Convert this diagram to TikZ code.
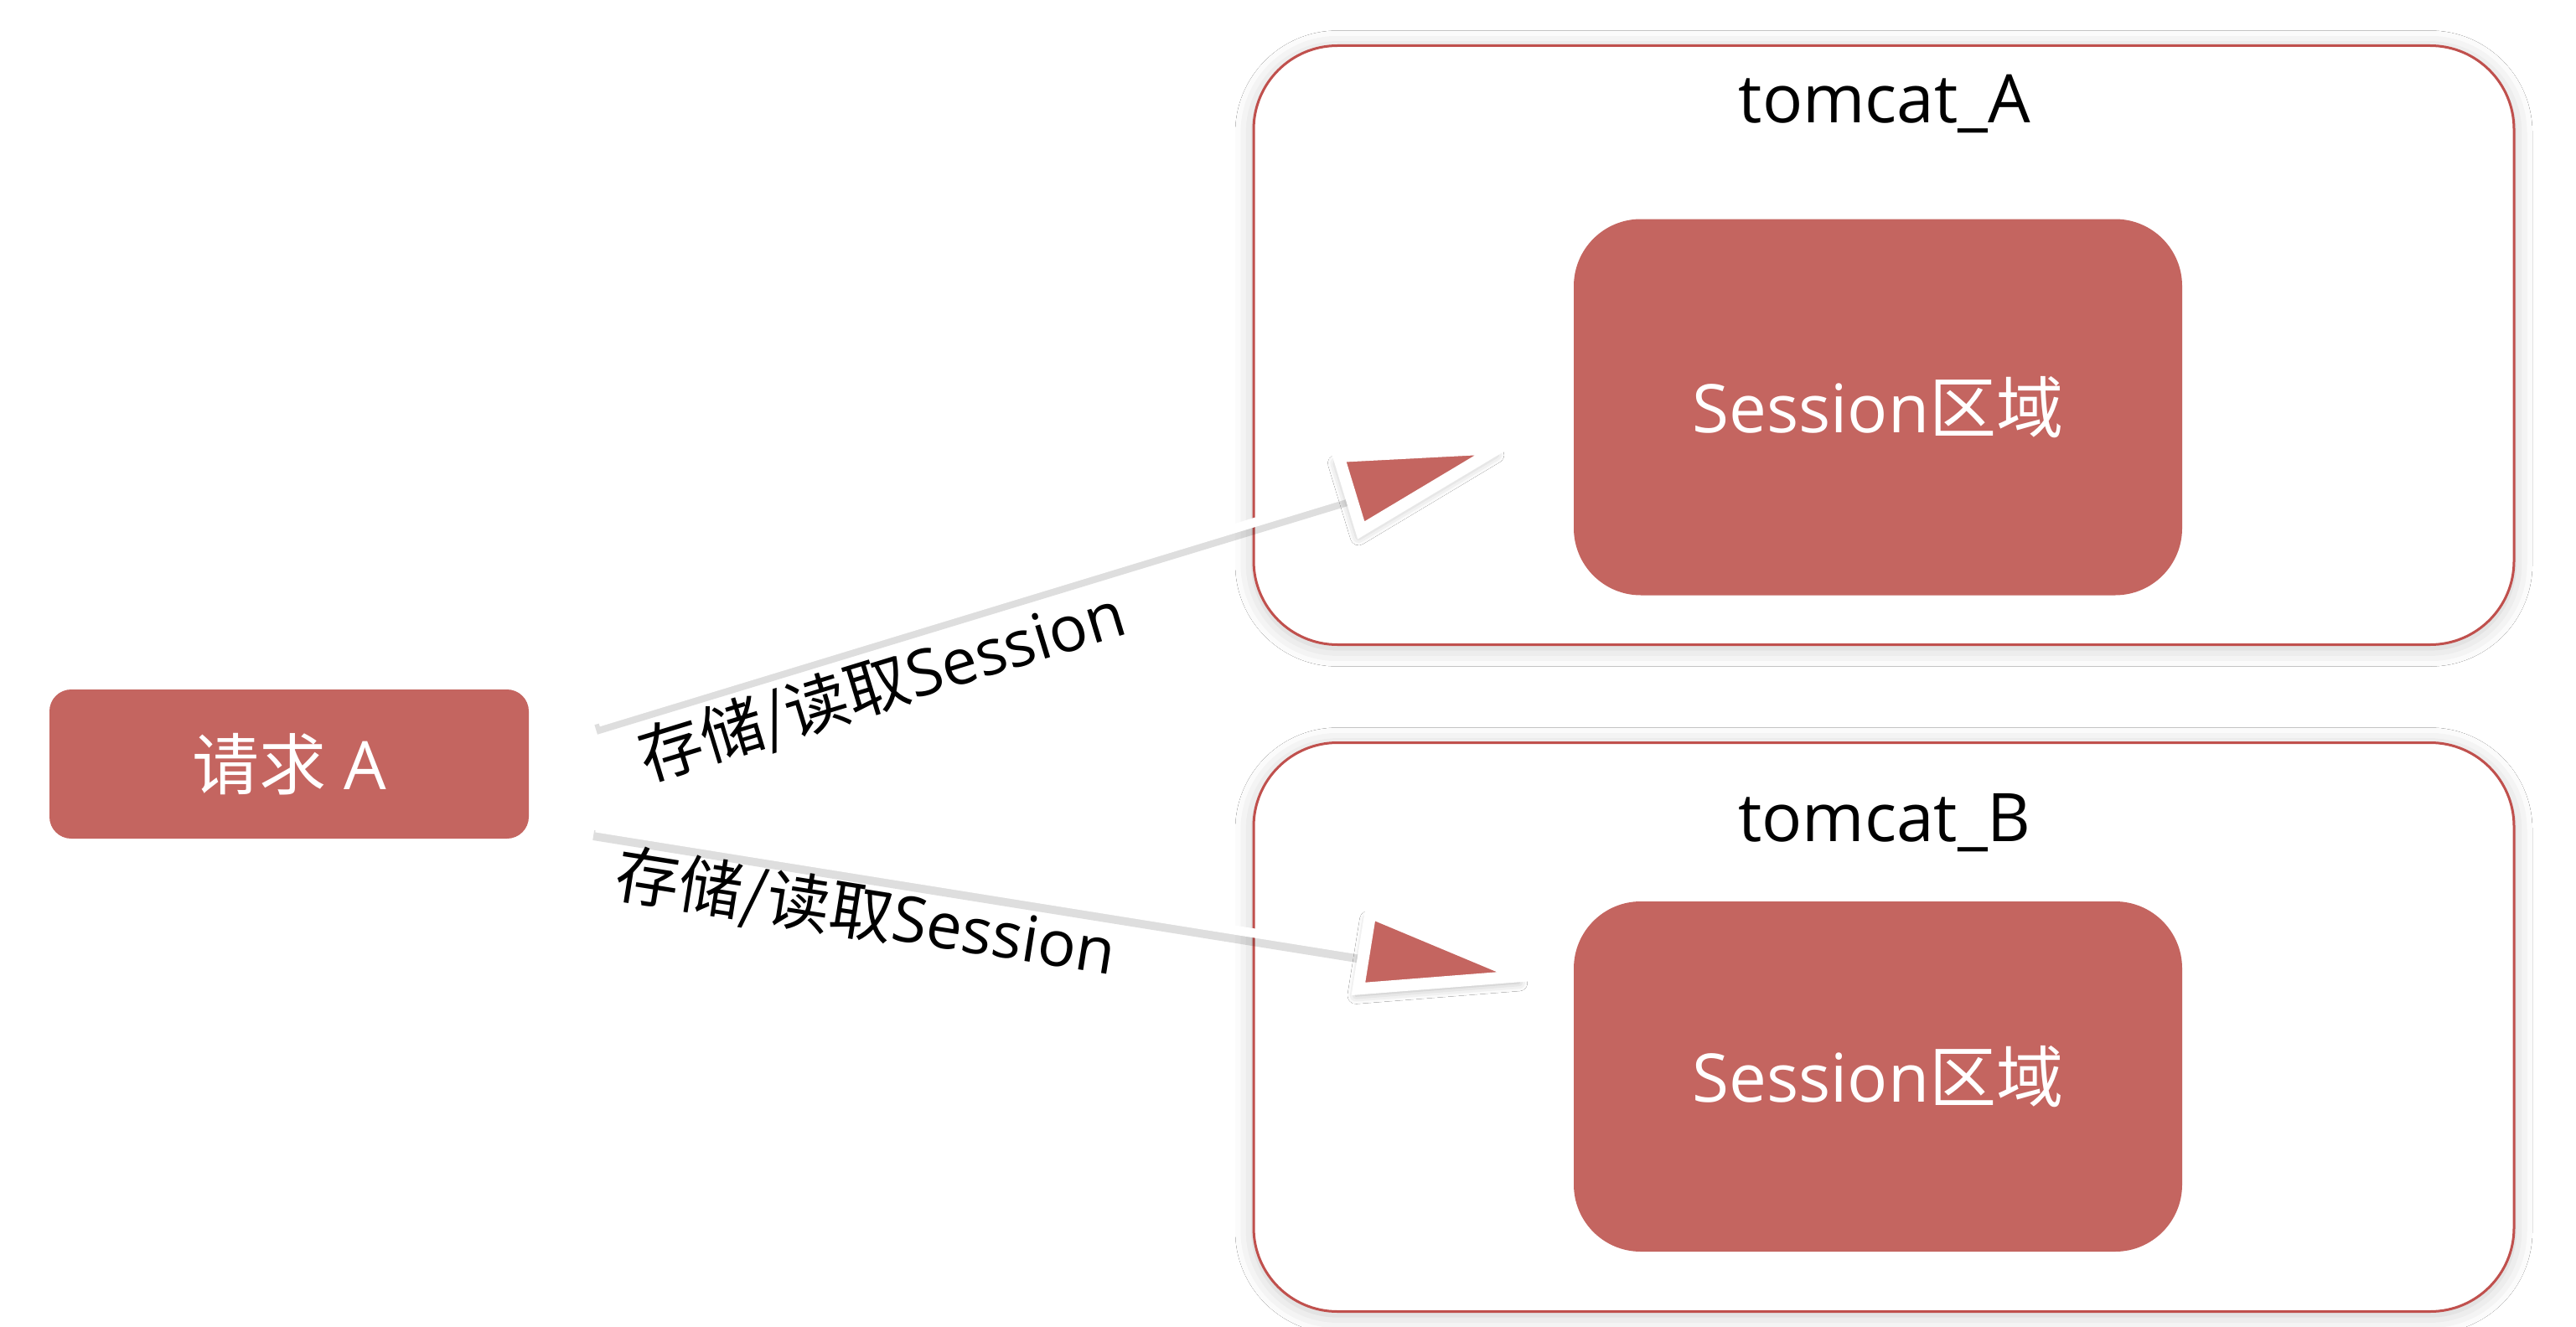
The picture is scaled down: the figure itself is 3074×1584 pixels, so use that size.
\documentclass[tikz,border=0pt]{standalone}
\usepackage{fontspec}
\setmainfont{Open Sans}
\newfontfamily\cjk{Noto Sans CJK SC}
\usetikzlibrary{calc,shadows.blur}
\definecolor{boxred}{RGB}{196,101,96}
\definecolor{edgered}{RGB}{192,80,77}
\begin{document}
\begin{tikzpicture}[x=1pt,y=-1pt,
  big/.style={font=\fontsize{80}{96}\selectfont},
  server/.style={draw=edgered, line width=3pt, fill=white, rounded corners=100pt,
    minimum width=1504pt, inner sep=0pt,
    blur shadow={shadow xshift=0pt, shadow yshift=-4pt, shadow blur radius=22pt, shadow opacity=22}},
  sessbox/.style={fill=boxred, rounded corners=80pt, minimum width=726pt, inner sep=0pt,
    text=white, big},
  reqbox/.style={fill=boxred, rounded corners=26pt, minimum width=572pt, minimum height=178pt,
    inner sep=0pt, text=white, big},
  title/.style={big, text=black},
  edgelabel/.style={font=\fontsize{76}{90}\selectfont, text=black, inner sep=0pt},
  shaft/.style={draw=white, line width=11pt,
    preaction={draw=black, draw opacity=0.13, line width=12pt,
      transform canvas={xshift=-3pt,yshift=-9pt}}},
  head/.style={fill=boxred, draw=white, line width=14pt, line join=miter,
    blur shadow={shadow xshift=-3pt, shadow yshift=-8pt, shadow blur radius=10pt, shadow opacity=30}}
]
\useasboundingbox[fill=white] (0,0) rectangle (3074,1584);

% request
\node[reqbox] (req) at (345,912) {{\cjk 请求} A};

% servers
\node[server, minimum height=715pt] (tomA) at (2248,412) {};
\node[title] (tomAl) at (2249,124) {tomcat\_A};
\node[sessbox, minimum height=449pt] (sessA) at (2241,486) {Session{\cjk 区域}};

\node[server, minimum height=679pt] (tomB) at (2248,1226) {};
\node[title] (tomBl) at (2249,982) {tomcat\_B};
\node[sessbox, minimum height=418pt] (sessB) at (2241,1285) {Session{\cjk 区域}};

% arrow A
\coordinate (aS) at ($(req.east)+(83,-50)$);
\coordinate (aT) at ($(sessA.west)+(-90,49)$);
\coordinate (aB) at ($(aT)!185pt!(aS)$);
\coordinate (aL) at ($(aB)!46pt!90:(aT)$);
\coordinate (aR) at ($(aB)!46pt!-90:(aT)$);
\draw[shaft] (aS) -- (aB);
\draw[head] (aT) -- (aL) -- (aR) -- cycle;
\node[edgelabel, rotate=17] (la) at (1053,820) {{\cjk 存储/读取}Session};

% arrow B
\coordinate (bS) at ($(req.east)+(80,76)$);
\coordinate (bT) at ($(sessB.west)+(-62,-120)$);
\coordinate (bB) at ($(bT)!190pt!(bS)$);
\coordinate (bL) at ($(bB)!46pt!90:(bT)$);
\coordinate (bR) at ($(bB)!46pt!-90:(bT)$);
\draw[shaft] (bS) -- (bB);
\draw[head] (bT) -- (bL) -- (bR) -- cycle;
\node[edgelabel, rotate=-9] (lb) at (1033,1092) {{\cjk 存储/读取}Session};
\end{tikzpicture}
\end{document}
